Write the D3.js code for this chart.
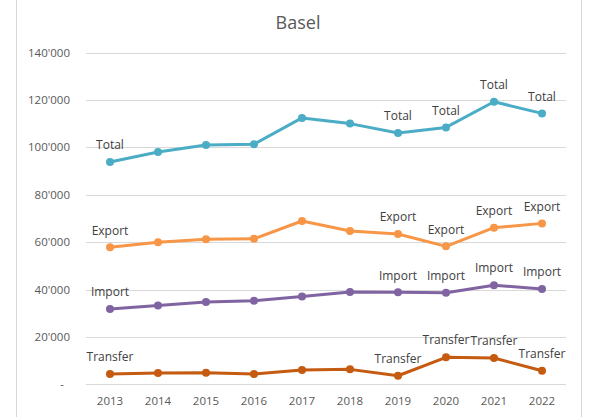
<!DOCTYPE html>
<html>
<head>
<meta charset="utf-8">
<script src="https://cdn.jsdelivr.net/npm/d3@7"></script>
<style>
  body { margin: 0; background: #fff; }
  svg { display: block; font-family: "Open Sans", "Liberation Sans", sans-serif; }
</style>
</head>
<body>
<div id="chart"></div>
<script>
var years = ["2013","2014","2015","2016","2017","2018","2019","2020","2021","2022"];
var total    = [93800, 98000, 101000, 101300, 112400, 110000, 106000, 108400, 119200, 114300];
var exportV  = [57800, 59900, 61200, 61400, 68900, 64700, 63400, 58200, 66100, 67900];
var importV  = [31800, 33200, 34700, 35300, 37000, 38900, 38800, 38600, 41800, 40200];
var transfer = [4300, 4800, 4900, 4300, 6000, 6300, 3600, 11400, 11100, 5700];
var yTicks = [0, 20000, 40000, 60000, 80000, 100000, 120000, 140000];
var labelled = ["2013","2019","2020","2021","2022"];

var series = [
  {name: "Total", values: total, color: "#4bacc6"},
  {name: "Export", values: exportV, color: "#f79646"},
  {name: "Import", values: importV, color: "#8064a2"},
  {name: "Transfer", values: transfer, color: "#c55a11"}
];

var canvasWidth = 590;
var canvasHeight = 417;

var svg = d3.select("#chart").append("svg")
    .attr("width", canvasWidth)
    .attr("height", canvasHeight);

/*Chart frame edges*/
svg.append("line").attr("x1", 16.5).attr("x2", 16.5).attr("y1", 0).attr("y2", canvasHeight)
    .attr("stroke", "#d9d9d9");
svg.append("line").attr("x1", 581.5).attr("x2", 581.5).attr("y1", 0).attr("y2", canvasHeight)
    .attr("stroke", "#d9d9d9");

var xScale = d3.scaleBand().domain(years).range([86, 566]);
var yScale = d3.scaleLinear().domain([0, 140000]).range([384.3, 52.5]);
var xMid = function(year){ return xScale(year) + xScale.bandwidth() / 2; };

/*Title*/
svg.append("text")
    .attr("x", 298).attr("y", 29)
    .attr("text-anchor", "middle")
    .attr("fill", "#595959")
    .attr("font-size", 18)
    .text("Basel");

/*Gridlines*/
svg.append("g")
    .selectAll("line")
    .data(yTicks)
    .join("line")
    .attr("x1", 86).attr("x2", 566)
    .attr("y1", function(d){ return Math.round(yScale(d)) + 0.5; })
    .attr("y2", function(d){ return Math.round(yScale(d)) + 0.5; })
    .attr("stroke", "#d9d9d9")
    .attr("stroke-width", 1);

/*Y axis labels*/
var fmt = function(d){ return d === 0 ? "-" : d3.format(",")(d).replace(/,/g, "'"); };
svg.append("g")
    .selectAll("text")
    .data(yTicks)
    .join("text")
    .attr("x", function(d){ return d === 0 ? 64 : 70; })
    .attr("y", function(d){ return yScale(d); })
    .attr("dy", "0.35em")
    .attr("text-anchor", "end")
    .attr("fill", "#595959")
    .attr("font-size", 11.5)
    .text(fmt);

/*X axis labels*/
svg.append("g")
    .selectAll("text")
    .data(years)
    .join("text")
    .attr("x", xMid)
    .attr("y", 401)
    .attr("dy", "0.35em")
    .attr("text-anchor", "middle")
    .attr("fill", "#595959")
    .attr("font-size", 11.5)
    .text(function(d){ return d; });

series.forEach(function(s) {
  var pts = s.values.map(function(v, i){ return {year: years[i], value: v}; });
  var g = svg.append("g");
  g.append("path")
      .datum(pts)
      .attr("fill", "none")
      .attr("stroke", s.color)
      .attr("stroke-width", 3)
      .attr("stroke-linejoin", "round")
      .attr("d", d3.line()
          .x(function(d){ return xMid(d.year); })
          .y(function(d){ return yScale(d.value); }));
  g.selectAll("circle")
      .data(pts)
      .join("circle")
      .attr("cx", function(d){ return xMid(d.year); })
      .attr("cy", function(d){ return yScale(d.value); })
      .attr("r", 4)
      .attr("fill", s.color);
  g.selectAll("text")
      .data(pts.filter(function(d){ return labelled.indexOf(d.year) >= 0; }))
      .join("text")
      .attr("x", function(d){ return xMid(d.year); })
      .attr("y", function(d){ return yScale(d.value) - 17; })
      .attr("dy", "0.35em")
      .attr("text-anchor", "middle")
      .attr("fill", "#404040")
      .attr("font-size", 12)
      .text(s.name);
});
</script>
</body>
</html>
